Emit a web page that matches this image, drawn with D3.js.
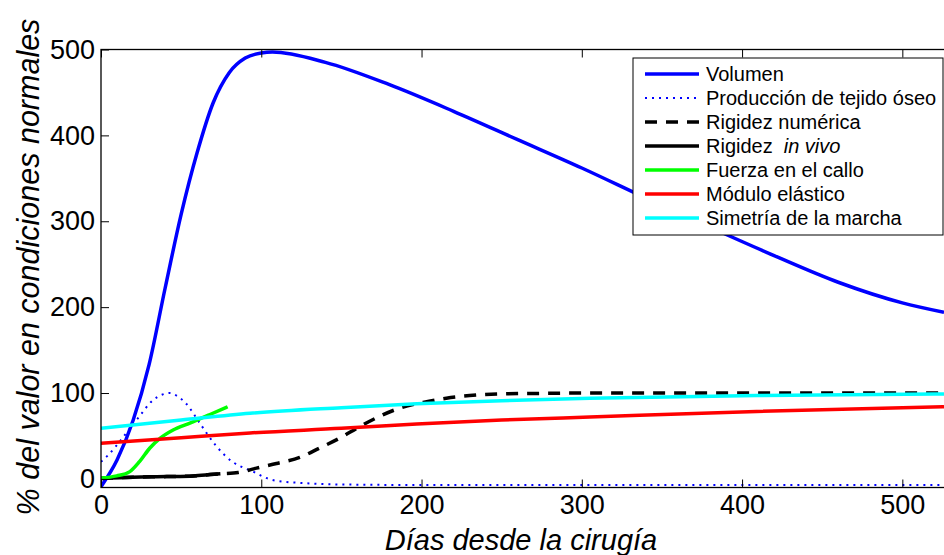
<!DOCTYPE html>
<html>
<head>
<meta charset="utf-8">
<script src="https://cdn.jsdelivr.net/npm/d3@7"></script>
<style>
  body { margin: 0; background: #fff; }
  text { font-family: "Liberation Sans", Arial, sans-serif; }
</style>
</head>
<body>
<div id="chart"></div>
<script>
// values
var volumenDays = [0, 10, 20, 30, 40, 50, 60, 70, 80, 90, 100, 107, 140, 180, 220, 260, 300, 340, 380, 420, 460, 500, 526];
var volumenValues = [-9, 22, 68, 133, 222, 308, 380, 438, 473, 490, 496, 497, 485, 459, 428, 395, 362, 327, 293, 260, 229, 205, 194];

var produccionDays = [0, 4.6, 14, 24, 32.6, 38, 43, 48, 53, 61.6, 72, 82, 89.6, 95, 101, 109, 128, 150, 190, 526];
var produccionValues = [20, 28, 49, 73, 92, 98, 100, 96, 88, 65, 38, 20, 12.5, 8.5, 2.7, -2, -5, -6.5, -7, -7];

var numericaDays = [0, 20, 41, 57.5, 68, 74.5, 85.6, 93, 97, 109.5, 124, 136.5, 149, 161.5, 174, 186.5, 201, 215.5, 230, 249, 269.5, 301, 526];
var numericaValues = [0.5, 2, 2.7, 3.5, 5, 6, 7.5, 10.5, 12.5, 18, 25, 36, 47.5, 61, 73, 82.5, 89, 94, 97, 99, 99.5, 100, 100];

var invivoDays = [0, 20, 41, 57.5, 68, 74.5];
var invivoValues = [0.5, 2, 2.7, 3.5, 5, 6];

var fuerzaDays = [0, 9.8, 18, 24, 30.5, 37, 45, 55.5, 68, 79];
var fuerzaValues = [1, 3.5, 8.5, 20, 36, 47.5, 57, 65, 75, 84];

var moduloDays = [0, 50, 93, 150, 197, 250, 305, 409, 526];
var moduloValues = [41.5, 48, 53.5, 59, 64, 68.5, 72, 78.5, 84];

var simetriaDays = [0, 50, 93, 150, 197, 250, 305, 409, 526];
var simetriaValues = [59, 68.5, 76.5, 83, 87.5, 91, 94, 97, 99];

var xTicks = [0, 100, 200, 300, 400, 500];
var yTicks = [0, 100, 200, 300, 400, 500];

var width = 944,
    height = 555;

var plotLeft = 101, plotRight = 944, plotTop = 49.5, plotBottom = 487.5;

var x = d3.scaleLinear().domain([0, 526]).range([plotLeft, plotRight]);
var y = d3.scaleLinear().domain([-10, 500]).range([plotBottom, plotTop]);

var series = [
  { name: "Volumen", days: volumenDays, values: volumenValues, color: "#0000ff", width: 3.5, dash: null },
  { name: "Producción de tejido óseo", days: produccionDays, values: produccionValues, color: "#0000ff", width: 2, dash: "2,5" },
  { name: "Rigidez numérica", days: numericaDays, values: numericaValues, color: "#000000", width: 3.5, dash: "12,9" },
  { name: "Rigidez", italic: "in vivo", days: invivoDays, values: invivoValues, color: "#000000", width: 3.5, dash: null },
  { name: "Fuerza en el callo", days: fuerzaDays, values: fuerzaValues, color: "#00ff00", width: 3.5, dash: null },
  { name: "Módulo elástico", days: moduloDays, values: moduloValues, color: "#ff0000", width: 3.5, dash: null },
  { name: "Simetría de la marcha", days: simetriaDays, values: simetriaValues, color: "#00ffff", width: 3.5, dash: null }
];

var svg = d3.select("#chart")
  .append("svg")
    .attr("width", width)
    .attr("height", height);

svg.append("clipPath")
    .attr("id", "plot-clip")
  .append("rect")
    .attr("x", plotLeft)
    .attr("y", plotTop)
    .attr("width", plotRight - plotLeft)
    .attr("height", plotBottom - plotTop);

var line = d3.line()
  .x(function(d) { return x(d[0]); })
  .y(function(d) { return y(d[1]); })
  .curve(d3.curveMonotoneX);

svg.append("g")
    .attr("clip-path", "url(#plot-clip)")
  .selectAll("path")
  .data(series)
  .enter()
    .append("path")
      .attr("fill", "none")
      .attr("stroke", function(d) { return d.color; })
      .attr("stroke-width", function(d) { return d.width; })
      .attr("stroke-dasharray", function(d) { return d.dash; })
      .attr("stroke-linejoin", "round")
      .attr("d", function(d) {
        return line(d.days.map(function(day, i) { return [day, d.values[i]]; }));
      });

// axes, MATLAB style: ticks pointing inward
var fontSize = 27;

var xAxis = svg.append("g")
  .attr("transform", "translate(0," + plotBottom + ")")
  .call(d3.axisBottom(x).tickValues(xTicks).tickSizeInner(-8).tickSizeOuter(0).tickPadding(7));

var xTop = svg.append("g")
  .attr("transform", "translate(0," + plotTop + ")")
  .call(d3.axisTop(x).tickValues(xTicks).tickSizeInner(-8).tickSizeOuter(0).tickFormat(""));

var yAxis = svg.append("g")
  .attr("transform", "translate(" + plotLeft + ",0)")
  .call(d3.axisLeft(y).tickValues(yTicks).tickSizeInner(-8).tickSizeOuter(0).tickPadding(6));

[xAxis, xTop, yAxis].forEach(function(g) {
  g.select(".domain").remove();
  g.selectAll(".tick line").attr("stroke", "#000");
  g.selectAll(".tick text")
    .attr("fill", "#000")
    .attr("font-size", fontSize + "px")
    .attr("font-family", "Liberation Sans, Arial, sans-serif");
});

svg.append("rect")
  .attr("x", plotLeft)
  .attr("y", plotTop)
  .attr("width", plotRight - plotLeft + 5)
  .attr("height", plotBottom - plotTop)
  .attr("fill", "none")
  .attr("stroke", "#000")
  .attr("stroke-width", 1.3);

svg.append("text")
  .attr("x", 521)
  .attr("y", 550)
  .attr("text-anchor", "middle")
  .attr("font-size", "29px")
  .attr("font-style", "italic")
  .text("Días desde la cirugía");

svg.append("text")
  .attr("transform", "translate(39,267) rotate(-90)")
  .attr("text-anchor", "middle")
  .attr("font-size", "30.5px")
  .attr("font-style", "italic")
  .text("% del valor en condiciones normales");

// legend
var legendX = 633, legendY = 58, legendW = 310, legendH = 177;
var rowStart = 74, rowStep = 24;

var legend = svg.append("g").attr("class", "legend");

legend.append("rect")
  .attr("x", legendX)
  .attr("y", legendY)
  .attr("width", legendW)
  .attr("height", legendH)
  .attr("fill", "#fff")
  .attr("stroke", "#000")
  .attr("stroke-width", 1);

var rows = legend.selectAll("g.row")
  .data(series)
  .enter()
    .append("g")
      .attr("class", "row")
      .attr("transform", function(d, i) { return "translate(0," + (rowStart + i * rowStep) + ")"; });

rows.append("line")
  .attr("x1", 645)
  .attr("x2", 699)
  .attr("stroke", function(d) { return d.color; })
  .attr("stroke-width", function(d) { return d.width; })
  .attr("stroke-dasharray", function(d) { return d.dash; });

var labels = rows.append("text")
  .attr("x", 706)
  .attr("dy", "0.36em")
  .attr("font-size", "20px")
  .text(function(d) { return d.name; });

labels.filter(function(d) { return d.italic; })
  .append("tspan")
    .attr("dx", "0.55em")
    .attr("font-style", "italic")
    .text(function(d) { return d.italic; });
</script>
</body>
</html>
